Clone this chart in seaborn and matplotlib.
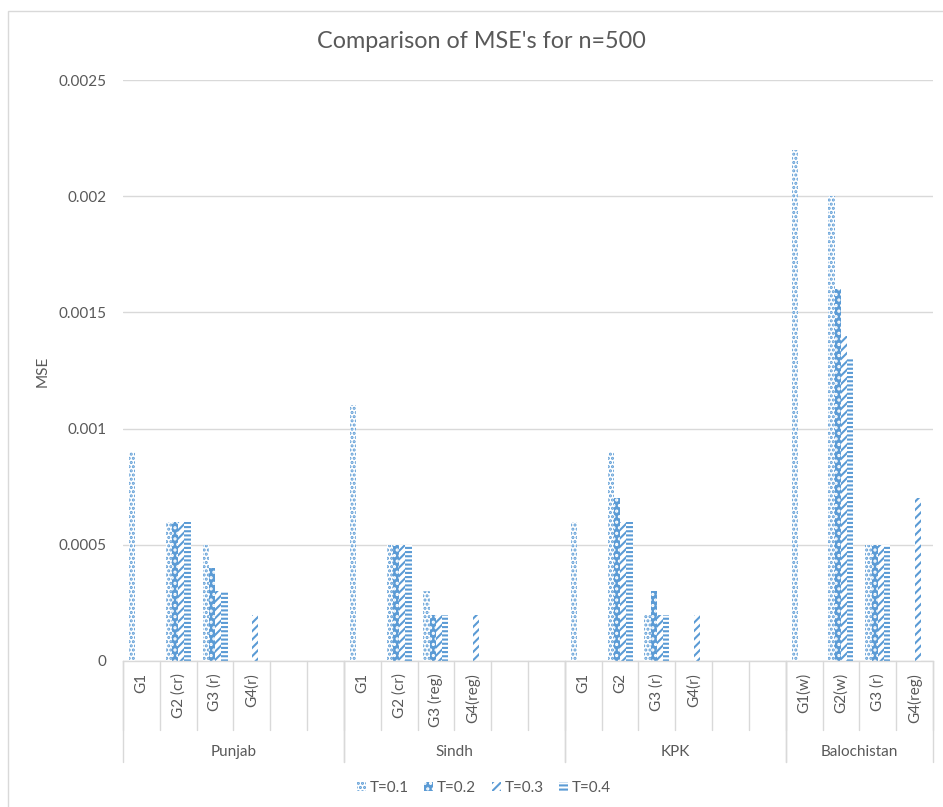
import numpy as np
import pandas as pd
import matplotlib
matplotlib.use("Agg")
import matplotlib.pyplot as plt
import matplotlib.patches as mpatches
from matplotlib.transforms import blended_transform_factory
import seaborn as sns

nan = np.nan

# ---- data -------------------------------------------------------------
regions = ["Punjab", "Sindh", "KPK", "Balochistan"]
punjab_groups = ["G1", "G2 (cr)", "G3 (r)", "G4(r)"]
sindh_groups = ["G1", "G2 (cr)", "G3 (reg)", "G4(reg)"]
kpk_groups = ["G1", "G2", "G3 (r)", "G4(r)"]
balochistan_groups = ["G1(w)", "G2(w)", "G3 (r)", "G4(reg)"]
region_groups = [punjab_groups, sindh_groups, kpk_groups, balochistan_groups]
blank_slots = [2, 2, 2, 0]

series_names = ["T=0.1", "T=0.2", "T=0.3", "T=0.4"]
# values listed group by group: Punjab G1..G4, Sindh G1..G4, KPK G1..G4, Balochistan G1..G4
mse_t01 = [0.0009, 0.0006, 0.0005, nan, 0.0011, 0.0005, 0.0003, nan,
           0.0006, 0.0009, 0.0002, nan, 0.0022, 0.0020, 0.0005, nan]
mse_t02 = [nan, 0.0006, 0.0004, nan, nan, 0.0005, 0.0002, nan,
           nan, 0.0007, 0.0003, nan, nan, 0.0016, 0.0005, nan]
mse_t03 = [nan, 0.0006, 0.0003, 0.0002, nan, 0.0005, 0.0002, 0.0002,
           nan, 0.0006, 0.0002, 0.0002, nan, 0.0014, 0.0005, 0.0007]
mse_t04 = [nan, 0.0006, 0.0003, nan, nan, 0.0005, 0.0002, nan,
           nan, 0.0006, 0.0002, nan, nan, 0.0013, 0.0005, nan]
series_values = [mse_t01, mse_t02, mse_t03, mse_t04]

ytick_values = [0, 0.0005, 0.001, 0.0015, 0.002, 0.0025]
ytick_labels = ["0", "0.0005", "0.001", "0.0015", "0.002", "0.0025"]

# ---- long table with one slot per category (blank slots keep spacing) --
order, slot_labels = [], []
rows = []
k = 0
for r, region in enumerate(regions):
    for g in region_groups[r]:
        sid = f"{region}|{g}"
        order.append(sid)
        slot_labels.append(g)
        for s, name in enumerate(series_names):
            rows.append({"slot": sid, "series": name, "mse": series_values[s][k]})
        k += 1
    for b in range(blank_slots[r]):
        order.append(f"{region}|_{b}")
        slot_labels.append("")
df = pd.DataFrame(rows).dropna()

# ---- style -------------------------------------------------------------
sns.set_style("white")
plt.rcParams["font.family"] = ["Lato", "DejaVu Sans"]
plt.rcParams["hatch.linewidth"] = 1.5
text_grey = "#595959"
line_grey = "#D9D9D9"
blue = "#5B9BD5"

W, H = 943, 807
fig = plt.figure(figsize=(W / 100, H / 100), dpi=100)
ax = fig.add_axes([123 / W, 1 - 661 / H, 810 / W, 581 / H])

sns.barplot(data=df, x="slot", y="mse", hue="series", order=order,
            hue_order=series_names, width=0.68, gap=0, errorbar=None,
            saturation=1, legend=False, ax=ax)

styles = [
    dict(facecolor="white", edgecolor=blue, hatch="....", linewidth=0),
    dict(facecolor=blue, edgecolor="white", hatch="...", linewidth=0),
    dict(facecolor="white", edgecolor=blue, hatch="////", linewidth=0),
    dict(facecolor="white", edgecolor=blue, hatch="----", linewidth=0),
]
for cont, st in zip(ax.containers, styles):
    for bar in cont:
        bar.set_facecolor(st["facecolor"])
        bar.set_edgecolor(st["edgecolor"])
        bar.set_hatch(st["hatch"])
        bar.set_linewidth(st["linewidth"])

n_slots = len(order)
ax.set_xlim(-0.5, n_slots - 0.5)
ax.set_ylim(0, 0.0025)
ax.set_yticks(ytick_values)
ax.set_yticklabels(ytick_labels)
ax.set_xticks([])
ax.set_xlabel("")
ax.set_ylabel("")
ax.tick_params(axis="y", length=0, pad=12, labelcolor=text_grey, labelsize=11)
ax.grid(axis="y", color=line_grey, linewidth=1)
ax.set_axisbelow(True)
for side in ["top", "right", "left"]:
    ax.spines[side].set_visible(False)
ax.spines["bottom"].set_color(line_grey)
ax.spines["bottom"].set_linewidth(1)

# ---- two-level category axis ------------------------------------------
tr = blended_transform_factory(ax.transData, fig.transFigure)
def fy(px):
    return 1 - px / H

for i in range(n_slots + 1):
    x = i - 0.5
    ax.plot([x, x], [fy(661), fy(730)], transform=tr, color=line_grey,
            linewidth=1, clip_on=False)
for i, lab in enumerate(slot_labels):
    if lab:
        ax.text(i, fy(673), lab, transform=tr, rotation=90, ha="center",
                va="top", fontsize=11, color=text_grey)

start = 0
for r, region in enumerate(regions):
    n = len(region_groups[r]) + blank_slots[r]
    for x in (start - 0.5, start + n - 0.5):
        ax.plot([x, x], [fy(661), fy(762)], transform=tr, color=line_grey,
                linewidth=1, clip_on=False)
    ax.text(start + (n - 1) / 2, fy(752), region, transform=tr, ha="center",
            va="center", fontsize=11, color=text_grey)
    start += n

# ---- titles, legend, frame --------------------------------------------
fig.text(481 / W, fy(42), "Comparison of MSE's for n=500", ha="center",
         va="center", fontsize=16.8, color=text_grey)
fig.text(43 / W, fy(371), "MSE", rotation=90, ha="center", va="center",
         fontsize=11, color=text_grey)

handles = [mpatches.Patch(facecolor=st["facecolor"], edgecolor=st["edgecolor"],
                          hatch=st["hatch"], linewidth=0) for st in styles]
fig.legend(handles, series_names, loc="center", bbox_to_anchor=(484 / W, fy(788)),
           ncol=4, frameon=False, handlelength=0.6, handleheight=0.6,
           handletextpad=0.25, columnspacing=1.0, fontsize=11, labelcolor=text_grey)

fig.add_artist(mpatches.Rectangle((8 / W, -0.1), 2, 1.1 - 11 / H,
                                  transform=fig.transFigure, fill=False,
                                  edgecolor=line_grey, linewidth=1))

fig.savefig("out.png", dpi=100)
